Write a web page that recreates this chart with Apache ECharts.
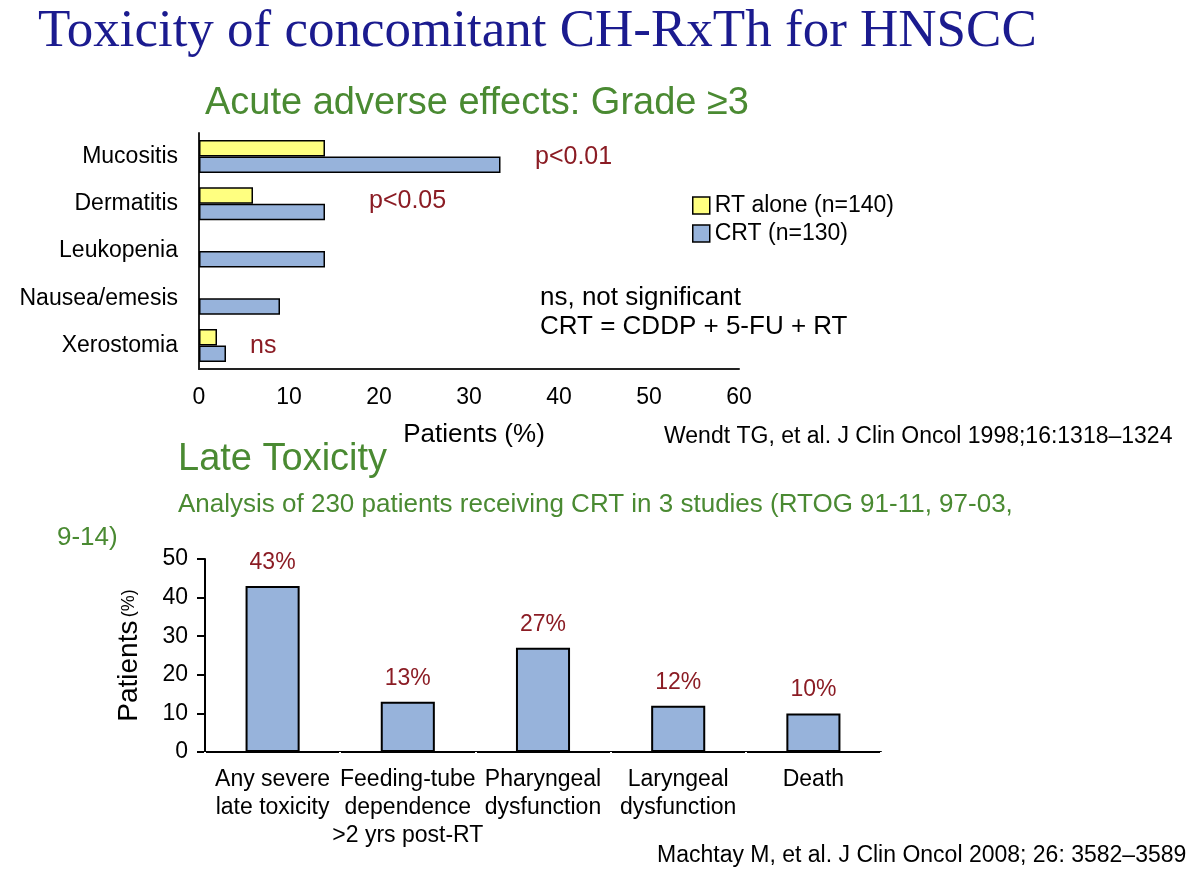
<!DOCTYPE html>
<html>
<head>
<meta charset="utf-8">
<script src="https://cdn.jsdelivr.net/npm/echarts@6/dist/echarts.min.js"></script>
<style>
  html, body { margin: 0; padding: 0; background: #fff; }
  #main { width: 1200px; height: 871px; }
</style>
</head>
<body>
<div id="main"></div>
<script>
// acute effects (top chart)
var acuteCats = ['Mucositis', 'Dermatitis', 'Leukopenia', 'Nausea/emesis', 'Xerostomia'];
var rtAlone = [14, 6, null, null, 2];
var crtValues = [33.5, 14, 14, 9, 3];
var acuteTicks = [0, 10, 20, 30, 40, 50, 60];

// late toxicity (bottom chart)
var lateCats = ['Any severe\nlate toxicity', 'Feeding-tube\ndependence\n>2 yrs post-RT', 'Pharyngeal\ndysfunction', 'Laryngeal\ndysfunction', 'Death'];
var lateValues = [43, 13, 27, 12, 10];

var FONT = 'Liberation Sans, Arial, sans-serif';
var GREEN = '#4a8a32';
var DARKRED = '#8b1c24';
var YELLOW = '#ffff80';
var BLUE = '#97b3db';

// text placed by its vertical centre
function txt(x, y, text, size, color, family) {
    return {
        type: 'text',
        left: x,
        top: y - size * 0.5,
        style: {
            text: text,
            font: size + 'px ' + (family || FONT),
            fill: color
        }
    };
}

var chart = echarts.init(document.getElementById('main'));
var option = {
    backgroundColor: '#fff',
    animation: false,
    textStyle: { fontFamily: FONT },
    legend: {
        orient: 'vertical',
        left: 687,
        top: 189,
        itemWidth: 17,
        itemHeight: 17,
        itemGap: 5,
        icon: 'rect',
        data: ['RT alone (n=140)', 'CRT (n=130)'],
        textStyle: { fontSize: 23, color: '#000', fontFamily: FONT },
        itemStyle: { borderColor: '#000', borderWidth: 1.5 }
    },
    grid: [
        { left: 199, top: 133, width: 540, height: 236 },
        { left: 205, top: 559, width: 676, height: 193 }
    ],
    xAxis: [{
        gridIndex: 0,
        type: 'value',
        min: 0,
        max: 60,
        interval: 10,
        name: 'Patients (%)',
        nameLocation: 'middle',
        nameGap: 53,
        nameTextStyle: { fontSize: 26, color: '#000', padding: [0, 0, 0, 10] },
        axisLine: { show: true, lineStyle: { color: '#222', width: 2 } },
        axisTick: { show: false },
        splitLine: { show: false },
        axisLabel: {
            fontSize: 23, color: '#000', margin: 17,
            formatter: function (v) { return acuteTicks.indexOf(v) >= 0 ? String(v) : ''; }
        }
    }, {
        gridIndex: 1,
        type: 'category',
        data: lateCats,
        axisLine: { lineStyle: { color: '#000', width: 2 } },
        axisTick: { show: true, interval: 0, length: 3, lineStyle: { color: '#fff', width: 2 } },
        axisLabel: { interval: 0, fontSize: 23, color: '#000', lineHeight: 28, margin: 14 }
    }],
    yAxis: [{
        gridIndex: 0,
        type: 'category',
        inverse: true,
        data: acuteCats,
        axisLine: { lineStyle: { color: '#222', width: 2 } },
        axisTick: { show: false },
        axisLabel: { fontSize: 23, color: '#000', margin: 21 }
    }, {
        gridIndex: 1,
        type: 'value',
        min: 0,
        max: 50,
        interval: 10,
        name: '{a|Patients} {b|(%)}',
        nameLocation: 'middle',
        nameRotate: 90,
        nameGap: 62,
        nameTextStyle: {
            color: '#000',
            rich: {
                a: { fontSize: 28, color: '#000' },
                b: { fontSize: 18, color: '#000' }
            }
        },
        axisLine: { show: true, lineStyle: { color: '#000', width: 2 } },
        axisTick: { show: true, length: 8, lineStyle: { color: '#000', width: 2 } },
        splitLine: { show: false },
        axisLabel: { fontSize: 23, color: '#000', margin: 17 }
    }],
    series: [{
        name: 'RT alone (n=140)',
        type: 'bar',
        xAxisIndex: 0,
        yAxisIndex: 0,
        data: rtAlone,
        barGap: '0%',
        barCategoryGap: '30%',
        itemStyle: { color: YELLOW, borderColor: '#000', borderWidth: 1.5 }
    }, {
        name: 'CRT (n=130)',
        type: 'bar',
        xAxisIndex: 0,
        yAxisIndex: 0,
        data: crtValues,
        barGap: '0%',
        barCategoryGap: '30%',
        itemStyle: { color: BLUE, borderColor: '#000', borderWidth: 1.5 }
    }, {
        name: 'late',
        type: 'bar',
        xAxisIndex: 1,
        yAxisIndex: 1,
        data: lateValues,
        barCategoryGap: '60%',
        itemStyle: { color: BLUE, borderColor: '#000', borderWidth: 2 },
        label: {
            show: true,
            position: 'top',
            distance: 12,
            fontSize: 23,
            color: DARKRED,
            formatter: '{c}%'
        }
    }],
    graphic: [
        txt(38, 32, 'Toxicity of concomitant CH-RxTh for HNSCC', 53, '#1b1b8f', 'Liberation Serif, Times New Roman, serif'),
        txt(205, 104, 'Acute adverse effects: Grade \u22653', 38, GREEN),
        txt(535, 157, 'p<0.01', 25, DARKRED),
        txt(369, 201, 'p<0.05', 25, DARKRED),
        txt(250, 346, 'ns', 25, DARKRED),
        txt(540, 298, 'ns, not significant', 26, '#000'),
        txt(540, 327, 'CRT = CDDP + 5-FU + RT', 26, '#000'),
        txt(664, 437, 'Wendt TG, et al. J Clin Oncol 1998;16:1318\u20131324', 23, '#000'),
        txt(178, 460, 'Late Toxicity', 38, GREEN),
        txt(178, 505, 'Analysis of 230 patients receiving CRT in 3 studies (RTOG 91-11, 97-03,', 26, GREEN),
        txt(57, 538, '9-14)', 26, GREEN),
        txt(657, 856, 'Machtay M, et al. J Clin Oncol 2008; 26: 3582\u20133589', 23, '#000')
    ]
};
chart.setOption(option);
window.onresize = chart.resize;
</script>
</body>
</html>
